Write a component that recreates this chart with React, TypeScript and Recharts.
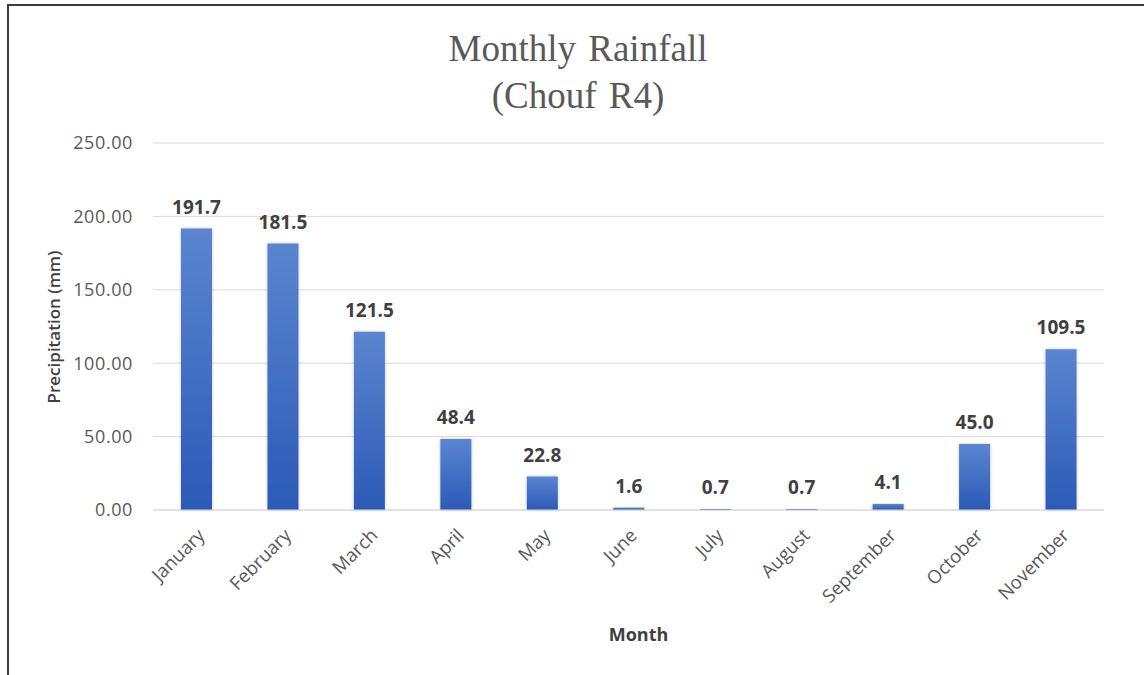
import React from "react";
import { BarChart, Bar, XAxis, YAxis, CartesianGrid, LabelList, Label } from "recharts";

const months = [
  "January", "February", "March", "April", "May", "June",
  "July", "August", "September", "October", "November",
];
const rainfall = [191.7, 181.5, 121.5, 48.4, 22.8, 1.6, 0.7, 0.7, 4.1, 45.0, 109.5];
const yTicks = [0, 50, 100, 150, 200, 250];

const data = months.map((m, i) => ({ month: m, rain: rainfall[i] }));

const SANS = "'Open Sans', 'Noto Sans', sans-serif";

const MonthTick = (props: any) => {
  const { x, y, payload } = props;
  return (
    <g transform={`translate(${x + 5},${y + 14})`}>
      <text
        textAnchor="end"
        transform="rotate(-45)"
        dy="0.35em"
        fill="#595959"
        fontSize={18.5}
        fontFamily={SANS}
      >
        {payload.value}
      </text>
    </g>
  );
};

export default function App() {
  return (
    <div
      style={{
        position: "absolute",
        left: 0,
        top: 0,
        width: 1144,
        height: 675,
        background: "#fff",
        overflow: "hidden",
      }}
    >
      {/* frame around the figure */}
      <div
        style={{
          position: "absolute",
          left: 7,
          top: 4,
          width: 1200,
          height: 720,
          border: "2px solid #3c3c3c",
        }}
      />
      <div
        style={{
          position: "absolute",
          left: 0,
          top: 25,
          width: 1156,
          textAlign: "center",
          fontFamily: "'Liberation Serif', 'Times New Roman', serif",
          fontSize: 37,
          lineHeight: "47px",
          color: "#595959",
          wordSpacing: 3,
        }}
      >
        Monthly Rainfall
        <br />
        (Chouf R4)
      </div>
      <BarChart
        width={1144}
        height={675}
        data={data}
        margin={{ top: 143, right: 40, bottom: 0, left: 0 }}
        style={{ position: "absolute", left: 0, top: 0 }}
      >
        <defs>
          <linearGradient id="barFill" x1="0" y1="0" x2="0" y2="1">
            <stop offset="0%" stopColor="#5b85d0" />
            <stop offset="100%" stopColor="#2b5ab6" />
          </linearGradient>
          <filter id="barShadow" x="-20%" y="-5%" width="140%" height="110%">
            <feDropShadow dx="0" dy="0" stdDeviation="1.5" floodColor="#000" floodOpacity="0.25" />
          </filter>
        </defs>
        <CartesianGrid vertical={false} stroke="#d9d9d9" strokeWidth={1} />
        <XAxis
          dataKey="month"
          height={165}
          interval={0}
          tickLine={false}
          axisLine={{ stroke: "#d9d9d9" }}
          tick={<MonthTick />}
        >
          <Label
            content={({ viewBox }: any) => (
              <text
                x={viewBox.x + viewBox.width / 2 + 10}
                y={viewBox.y + 131}
                textAnchor="middle"
                fill="#404040"
                fontSize={18}
                fontWeight={700}
                fontFamily={SANS}
              >
                Month
              </text>
            )}
          />
        </XAxis>
        <YAxis
          width={153}
          domain={[0, 250]}
          ticks={yTicks}
          tickFormatter={(v: number) => v.toFixed(2)}
          tickLine={false}
          axisLine={false}
          tickMargin={14}
          tick={{ fill: "#595959", fontSize: 18, fontFamily: SANS, letterSpacing: 0.6 }}
        >
          <Label
            content={() => {
              const cx = 53;
              const cy = 327;
              return (
                <text
                  x={cx}
                  y={cy}
                  transform={`rotate(-90, ${cx}, ${cy})`}
                  textAnchor="middle"
                  dominantBaseline="central"
                  fill="#404040"
                  fontSize={17}
                  fontWeight={600}
                  fontFamily={SANS}
                >
                  Precipitation (mm)
                </text>
              );
            }}
          />
        </YAxis>
        <Bar
          dataKey="rain"
          barSize={31}
          fill="url(#barFill)"
          filter="url(#barShadow)"
          isAnimationActive={false}
        >
          <LabelList
            dataKey="rain"
            position="top"
            offset={15}
            formatter={(v: any) => Number(v).toFixed(1)}
            fill="#404040"
            fontSize={19}
            fontWeight={700}
            fontFamily={SANS}
          />
        </Bar>
      </BarChart>
    </div>
  );
}
